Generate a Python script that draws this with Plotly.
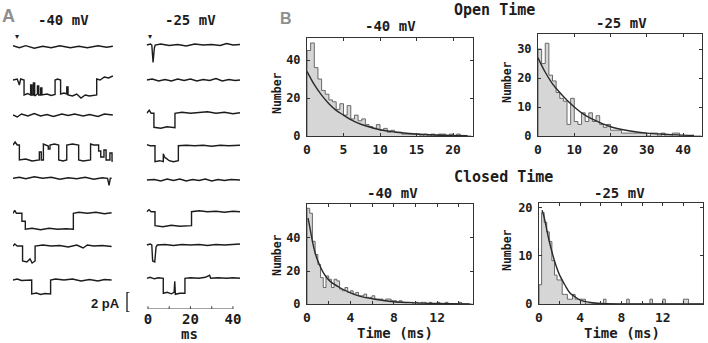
import plotly.graph_objects as go

# ======================= DATA =======================
# Panel A: single-channel sweeps, vertices as (time in ms, current in pA)
# closed level = 0 pA, open level ~ -1.5 pA (downward openings)
L1 = [(0, 0.1), (3, -0.1), (6, 0.1), (10, -0.15), (14, 0.05), (18, -0.1), (22, 0.1),
      (27, -0.1), (31, 0.05), (35, -0.1), (40, 0.1), (44, -0.05), (47, 0.05)]
L2 = [(0, 0), (2, 0.1), (3, -0.5), (3.6, 0.1), (5.2, 0), (5.2, -1.5), (7, -1.35), (8.3, -1.5),
      (8.3, -0.5), (8.9, -0.5), (8.9, -1.5), (9.6, -1.5), (9.6, -0.3), (10.2, -0.3), (10.2, -1.6),
      (11.5, -1.4), (11.5, -0.6), (12.1, -0.6), (12.1, -1.5), (13, -1.5), (13, -0.8), (13.6, -0.8),
      (13.6, -1.5), (16, -1.4), (18, -1.55), (19.8, -1.45), (19.8, 0), (21, 0.1), (22.4, 0),
      (22.4, -1.4), (24, -1.3), (25.3, -1.4), (25.3, -0.7), (25.9, -0.7), (25.9, -1.5), (28, -1.6),
      (30, -1.4), (32, -1.8), (34, -1.5), (36, -1.6), (39.4, -1.5), (39.4, 0.1), (41, 0),
      (43, 0.3), (45, 0.2), (47, 0.4)]
L3 = [(0, 0), (2, -0.2), (4, 0.1), (7, -0.1), (10, 0.15), (13, -0.1), (16, 0.05), (19, -0.15),
      (23, 0.1), (26, -0.05), (29, 0.1), (33, -0.1), (36, 0.05), (40, -0.15), (43, 0.1), (47, 0)]
L4 = [(0, 0), (1, 0.3), (2, 0), (3, 0), (3, -1.5), (6, -1.4), (9, -1.6), (12.4, -1.5),
      (12.4, -0.7), (13.3, -0.7), (13.3, -1.5), (14.3, -1.5), (14.3, 0.1), (15.5, 0), (16.6, -0.1),
      (16.6, -0.4), (17.4, -0.4), (17.4, 0), (19.5, 0.1), (21.5, 0), (21.5, -1.5), (23.5, -1.6),
      (25.3, -1.5), (25.3, 0), (28, 0.1), (30.9, 0), (30.9, -1.5), (33, -1.6), (36.5, -1.5),
      (36.5, 0.1), (38, 0), (40.3, 0), (40.3, -0.6), (41.3, -0.6), (41.3, -1.2), (42.8, -1.2),
      (42.8, -0.5), (43.8, -0.5), (43.8, -1.5), (45.6, -1.5), (45.6, -0.8), (46.6, -0.8),
      (46.6, -1.6), (47, -1.6)]
L5 = [(0, 0), (3, 0.1), (6, -0.05), (10, 0.15), (14, 0), (18, 0.1), (22, -0.1), (26, 0.05),
      (30, -0.05), (34, 0.1), (38, -0.1), (42, 0.05), (44.5, 0), (45.2, -0.7), (45.8, 0), (46.4, 0)]
L6 = [(0, 0), (0.8, 0.3), (1.6, 0), (4.2, 0), (4.2, -0.8), (5.8, -0.8), (5.8, -1.6), (9, -1.5),
      (13, -1.65), (17, -1.5), (21, -1.6), (25, -1.55), (28.4, -1.6), (28.4, 0), (31, 0.1),
      (35, 0), (39, 0.1), (43, -0.05), (46.4, 0.05)]
L7 = [(0, 0), (0.8, 0.2), (2, 0), (4.5, 0), (4.5, -1.5), (6.5, -1.6), (8, -1.3), (9, -1.7),
      (10.4, -1.5), (10.4, 0), (14, 0.1), (18, 0), (22, 0.05), (26, -0.1), (30, 0.1), (33, -0.2),
      (35, 0.1), (38, 0), (42, 0.05), (46.4, -0.05)]
L8 = [(0, 0), (2, 0.1), (4, -0.05), (8.8, 0), (8.8, -1.4), (11, -1.3), (13, -1.45), (15, -1.35),
      (17.7, -1.4), (17.7, 0), (20, 0.1), (24, 0), (28, 0.1), (32, -0.1), (36, 0.05), (40, -0.1),
      (43, 0.05), (46.4, 0)]

R1 = [(-0.6, 0), (1.2, 0.1), (1.8, 0), (2.4, -1.75), (3.0, -0.3), (3.4, 0), (6, 0.1), (10, -0.05),
      (14, 0.05), (18, -0.1), (22, 0.1), (26, 0), (30, 0.05), (34, -0.05), (37, 0.15), (40, 0),
      (43.3, 0.05)]
R2 = [(-0.6, 0), (2, 0.1), (5, -0.1), (8, 0.05), (11, -0.1), (14, 0.1), (17, -0.05), (20, 0.1),
      (23, -0.1), (26, 0.05), (29, -0.05), (32, 0.15), (35, -0.1), (38, 0.05), (41, -0.05), (43.3, 0)]
R3 = [(-0.6, 0), (0.6, 0.3), (1.5, 0), (2.8, 0), (2.8, -1.4), (6, -1.5), (9, -1.35), (12.7, -1.45),
      (12.7, 0), (16, 0.1), (20, 0), (24, 0.05), (28, 0.15), (32, 0), (36, 0.1), (40, -0.05),
      (43.3, 0.05)]
R4 = [(-0.6, 0.1), (1, 0), (3.3, 0), (3.3, -1.6), (5.5, -1.5), (7.2, -1.6), (7.2, -0.8),
      (8.0, -1.2), (8.8, -1.3), (10, -1.5), (12, -1.6), (14.3, -1.5), (14.3, 0), (18, 0.05),
      (22, 0), (26, 0.05), (30, -0.05), (34, 0.05), (38, 0), (43.3, 0.05)]
R5 = [(-0.6, 0), (3, 0.05), (6, -0.1), (9, 0.1), (12, -0.05), (15, 0.1), (18, -0.1), (21, 0.05),
      (24, -0.05), (27, 0.1), (30, -0.1), (33, 0.05), (36, -0.05), (39, 0.05), (43.3, 0)]
R6 = [(-0.6, 0), (0.5, 0.2), (1.5, 0), (3.3, 0), (3.3, -1.4), (7, -1.5), (11, -1.35), (15, -1.45),
      (20.5, -1.4), (20.5, 0), (24, 0.1), (28, 0), (32, 0.05), (36, -0.05), (40, 0.05), (43.3, 0)]
R7 = [(-0.6, 0), (1, 0.1), (1.8, 0), (2.2, -1.6), (3.2, -1.7), (3.8, -0.2), (4.4, 0), (8, 0.05),
      (12, -0.05), (16, 0.05), (20, 0), (24, 0.05), (28, -0.05), (32, 0.05), (36, 0), (40, 0.05),
      (43.3, 0.1)]
R8 = [(-0.6, 0), (1, 0.1), (3, -0.05), (5, 0.05), (7.2, 0), (7.2, -1.5), (9, -1.4), (11, -1.55),
      (12.3, -1.4), (12.6, -0.3), (12.9, -1.6), (15, -1.5), (17.4, -1.5), (17.4, 0), (20, 0.05),
      (24, 0), (27, 0.1), (29, 0.3), (29.5, 0), (33, 0.05), (37, 0), (40, 0.05), (43.3, 0)]

LEFT_SWEEPS = [L1, L2, L3, L4, L5, L6, L7, L8]
RIGHT_SWEEPS = [R1, R2, R3, R4, R5, R6, R7, R8]

SCALE_BAR_PA = 2
TIME_BAR_MS = [0, 40]
TIME_BAR_TICKS = [0, 10, 20, 30, 40]
TIME_BAR_LABELS = [0, 20, 40]

# Panel B: dwell-time histograms (bin width ms, counts from 0) and exponential fits
OPEN40_BIN = 0.5
OPEN40_COUNTS = [45, 49, 36, 30, 24, 22, 19, 18, 14, 17, 11, 16, 9, 11, 8, 9, 6, 5, 4, 6, 3, 4,
                 2, 3, 2, 2, 1, 1, 1, 1, 1, 0, 1, 0, 1, 0, 1, 1, 0, 1, 0, 1, 0, 0, 0]
OPEN40_FIT_T = [0, 1, 2, 3, 4, 5, 6, 7, 8, 10, 12, 14, 16, 20, 22]
OPEN40_FIT_N = [34, 27, 21.5, 17, 13.5, 11, 8.6, 6.8, 5.4, 3.3, 2.1, 1.3, 0.8, 0.3, 0.2]

OPEN25_BIN = 1.0
OPEN25_COUNTS = [30, 25, 32, 21, 19, 15, 13, 12, 4, 13, 5, 4, 8, 5, 8, 5, 7, 4, 3, 4, 2, 2, 2,
                 1, 1, 1, 1, 1, 1, 1, 0, 1, 1, 0, 1, 0, 0, 1, 1, 0, 0, 0, 0, 0, 0]
OPEN25_FIT_T = [0, 2, 4, 6, 8, 10, 12, 15, 20, 25, 30, 35, 40, 43]
OPEN25_FIT_N = [27, 22, 18, 15, 12.3, 10, 8, 5.8, 3.2, 1.8, 1.0, 0.6, 0.3, 0.2]

CLOSED40_BIN = 0.25
CLOSED40_COUNTS = [58, 55, 38, 30, 24, 16, 10, 17, 15, 10, 15, 14, 9, 8, 10, 7, 8, 6, 7, 5, 5, 6,
                   4, 4, 5, 3, 3, 3, 2, 3, 3, 2, 2, 1, 2, 1, 1, 1, 1, 0, 1, 0, 1, 1, 0, 1, 0, 0,
                   1, 0, 0, 1, 0, 0, 0, 0, 1, 0, 0, 0, 0]
CLOSED40_FIT_T = [0.1, 0.3, 0.5, 0.75, 1, 1.5, 2, 2.5, 3, 4, 5, 6, 8, 10, 12, 15]
CLOSED40_FIT_N = [52, 45, 38, 31, 26, 19, 14.5, 12, 10, 6.7, 4.5, 3.2, 1.4, 0.7, 0.3, 0.1]

CLOSED25_BIN = 0.25
CLOSED25_COUNTS = [4, 19, 17, 15, 13, 9, 6, 5, 5, 2, 2, 1, 1, 2, 1, 1, 1, 1,
                   0, 0, 0, 0, 0, 0, 0, 1,
                   0, 0, 0, 0, 0, 0, 0, 0, 1,
                   0, 0, 0, 0, 0, 0, 0, 0, 1,
                   0, 0, 0, 0, 1,
                   0, 0, 0, 0, 0, 0, 0, 1, 1,
                   0, 0, 0, 0, 0, 0]
CLOSED25_FIT_T = [0.3, 0.5, 1, 1.5, 2, 2.5, 3, 3.5, 4, 5, 6, 8, 12, 15.9]
CLOSED25_FIT_N = [19.5, 18, 13, 9, 6, 4, 2.3, 1.5, 0.8, 0.3, 0.1, 0.02, 0, 0]

# ======================= LAYOUT HELPERS =======================
W, H = 708, 343
MONO = "DejaVu Sans Mono"
SANS = "Liberation Sans"
INK = "#1c1c1c"


def dx(a, b):
    return [a / W, b / W]


def dy(top, bottom):
    return [1 - bottom / H, 1 - top / H]


fig = go.Figure()
layout = dict(width=W, height=H, margin=dict(l=0, r=0, t=0, b=0, autoexpand=False),
              paper_bgcolor="white", plot_bgcolor="rgba(0,0,0,0)", showlegend=False)

hidden = dict(visible=False, showgrid=False, zeroline=False, fixedrange=True, automargin=False)

# sweep columns
LEFT_BASE = [46.7, 80, 115, 145, 178.3, 213.3, 246, 280]
RIGHT_BASE = [45, 80, 113.3, 145.7, 180, 211.7, 245, 278.3]
SWEEP_YR = [-2.0, 0.6]        # 10 px per pA
layout["xaxis"] = dict(hidden, domain=dx(13, 113), range=[0, 47.06], anchor="y")
layout["xaxis2"] = dict(hidden, domain=dx(146.7, 240.4), range=[-0.6, 43.5], anchor="y9")

for col, (sweeps, bases, xname) in enumerate([(LEFT_SWEEPS, LEFT_BASE, "x"),
                                              (RIGHT_SWEEPS, RIGHT_BASE, "x2")]):
    for i, (sw, b) in enumerate(zip(sweeps, bases)):
        k = col * 8 + i + 1
        ykey = "yaxis" if k == 1 else f"yaxis{k}"
        layout[ykey] = dict(hidden, domain=dy(b - 6, b + 20), range=SWEEP_YR, anchor=xname)
        t, cur = zip(*sw)
        fig.add_trace(go.Scatter(x=list(t), y=list(cur), mode="lines",
                                 line=dict(color=INK, width=1.4),
                                 xaxis=xname, yaxis="y" if k == 1 else f"y{k}",
                                 hoverinfo="skip"))

# histogram panels
def hist_panel(n, counts, binw, fit_t, fit_n, xdom, ydom, xr, yr, xt, yt, xminor=None):
    xk, yk = f"xaxis{n}", f"yaxis{n + 14}"
    xref, yref = f"x{n}", f"y{n + 14}"
    common = dict(showline=True, linecolor="#333", linewidth=1, mirror="ticks",
                  ticks="inside", ticklen=3, tickcolor="#333", showgrid=False,
                  zeroline=False, fixedrange=True, automargin=False)
    layout[xk] = dict(common, domain=xdom, range=xr, anchor=yref, tickvals=xt,
                      tickfont=dict(family=MONO, size=13, color=INK, weight="bold"),
                      ticklabelstandoff=1)
    if xminor:
        layout[xk]["minor"] = dict(tickvals=xminor, ticks="inside", ticklen=3, tickcolor="#333")
    layout[yk] = dict(common, domain=ydom, range=yr, anchor=xref, tickvals=yt,
                      tickfont=dict(family=MONO, size=12, color=INK, weight="bold"),
                      ticklabelstandoff=3)
    # step-outline histogram (bin edges from bin width), filled to zero
    edges = [binw * i for i in range(len(counts) + 1)]
    sx = [0] + edges
    sy = [0] + list(counts) + [0]
    fig.add_trace(go.Scatter(x=sx, y=sy, mode="lines", line=dict(shape="hv", color="#5a5a5a", width=0.9),
                             fill="tozeroy", fillcolor="#d6d6d6",
                             xaxis=xref, yaxis=yref, hoverinfo="skip"))
    fig.add_trace(go.Scatter(x=fit_t, y=fit_n, mode="lines",
                             line=dict(color="#2a2a2a", width=1.4, shape="spline"),
                             xaxis=xref, yaxis=yref, hoverinfo="skip"))


hist_panel(3, OPEN40_COUNTS, OPEN40_BIN, OPEN40_FIT_T, OPEN40_FIT_N,
           dx(307, 473), dy(38, 136), [0, 22.74], [0, 51.6], [0, 5, 10, 15, 20], [0, 20, 40])
hist_panel(4, OPEN25_COUNTS, OPEN25_BIN, OPEN25_FIT_T, OPEN25_FIT_N,
           dx(538, 702), dy(34, 136), [0, 45.2], [0, 35.2], [0, 10, 20, 30, 40], [0, 10, 20, 30])
hist_panel(5, CLOSED40_COUNTS, CLOSED40_BIN, CLOSED40_FIT_T, CLOSED40_FIT_N,
           dx(307, 473), dy(204, 304), [0, 15.3], [0, 60.6], [0, 4, 8, 12], [0, 20, 40],
           xminor=[2, 6, 10, 14])
hist_panel(6, CLOSED25_COUNTS, CLOSED25_BIN, CLOSED25_FIT_T, CLOSED25_FIT_N,
           dx(539, 703), dy(203, 304), [0, 15.9], [0, 21.0], [0, 4, 8, 12], [0, 10, 20],
           xminor=[2, 6, 10, 14])

# 2 pA scale bar
layout["xaxis7"] = dict(hidden, domain=dx(122, 132), range=[0, 1], anchor="y21")
layout["yaxis21"] = dict(hidden, domain=dy(292, 312), range=[0, SCALE_BAR_PA], anchor="x7")
fig.add_trace(go.Scatter(x=[0.75, 0.5, 0.5, 0.75], y=[SCALE_BAR_PA, SCALE_BAR_PA, 0, 0],
                         mode="lines", line=dict(color=INK, width=1.3),
                         xaxis="x7", yaxis="y21", hoverinfo="skip"))

# time scale bar (same ms scale as right column)
layout["xaxis8"] = dict(domain=dx(146.7, 240.4), range=[-0.6, 43.5], anchor="y22",
                        showline=False, showgrid=False, zeroline=False, ticks="",
                        tickvals=TIME_BAR_LABELS, fixedrange=True, ticklabelstandoff=0,
                        automargin=False,
                        tickfont=dict(family=MONO, size=14, color=INK, weight="bold"))
layout["yaxis22"] = dict(hidden, domain=dy(300, 309), range=[0, 1], anchor="x8")
fig.add_trace(go.Scatter(x=TIME_BAR_MS, y=[0, 0], mode="lines",
                         line=dict(color="#444", width=1), xaxis="x8", yaxis="y22",
                         hoverinfo="skip"))
fig.add_trace(go.Scatter(x=TIME_BAR_TICKS, y=[0] * len(TIME_BAR_TICKS), mode="markers",
                         marker=dict(symbol="line-ns", size=4, line=dict(color="#444", width=1)),
                         xaxis="x8", yaxis="y22", hoverinfo="skip"))

# ======================= TEXT =======================
def note(text, x, y, size, family=MONO, color=INK, bold=True, angle=0, xanchor="center"):
    return dict(text=text, x=x / W, y=1 - y / H, xref="paper", yref="paper",
                xanchor=xanchor, yanchor="middle", showarrow=False, textangle=angle,
                font=dict(family=family, size=size, color=color,
                          weight="bold" if bold else "normal"))


annotations = [
    note("A", 8, 16, 18, family=SANS, color="#8e8e8e"),
    note("B", 286, 18, 16, family=SANS, color="#8e8e8e"),
    note("-40 mV", 63, 20, 14),
    note("-25 mV", 190, 20, 14),
    note("Open Time", 452, 10, 15, xanchor="left"),
    note("Closed Time", 452, 177, 15, xanchor="left"),
    note("-40 mV", 390, 26, 14),
    note("-25 mV", 621, 23, 14),
    note("-40 mV", 392, 193, 14),
    note("-25 mV", 619, 193, 14),
    note("Number", 277, 93, 11.5, angle=-90),
    note("Number", 507, 82, 11.5, angle=-90),
    note("Number", 277, 255, 11.5, angle=-90),
    note("Number", 507, 250, 11.5, angle=-90),
    note("Time (ms)", 395, 333, 14),
    note("Time (ms)", 622, 333, 14),
    note("2 pA", 105, 303, 13, family=SANS, bold=True),
    note("ms", 189, 334, 14),
    note("▾", 17.3, 37, 8, family="DejaVu Sans", bold=False),
    note("▾", 150, 37, 8, family="DejaVu Sans", bold=False),
]
layout["annotations"] = annotations

fig.update_layout(**layout)
fig.write_html("out.html", config={"displayModeBar": False},
               post_script="document.body.style.margin='0px';")
